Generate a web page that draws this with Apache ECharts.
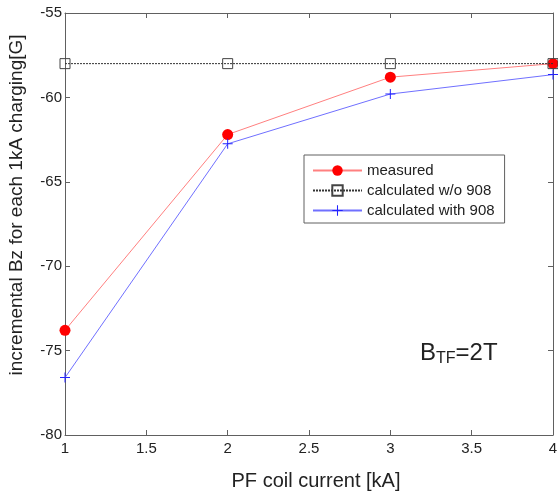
<!DOCTYPE html>
<html>
<head>
<meta charset="utf-8">
<script src="https://cdn.jsdelivr.net/npm/echarts@6/dist/echarts.min.js"></script>
<style>
html, body { margin: 0; padding: 0; background: #fff; }
#main { width: 558px; height: 494px; }
</style>
</head>
<body>
<div id="main"></div>
<script>
var current = [1, 2, 3, 4];
var measured = [-73.8, -62.2, -58.8, -58.0];
var calcWithout = [-58, -58, -58, -58];
var calcWith = [-76.6, -62.75, -59.8, -58.65];
var xTicks = [1, 1.5, 2, 2.5, 3, 3.5, 4];
var yTicks = [-80, -75, -70, -65, -60, -55];

function pairs(ys) {
    return current.map(function (x, i) { return [x, ys[i]]; });
}

var plus = 'path://M0,4.5L10,4.5L10,5.5L0,5.5Z M4.5,0L5.5,0L5.5,10L4.5,10Z';
var font = 'Liberation Sans, Arial, sans-serif';
var axisLine = { lineStyle: { color: '#606060', width: 1 } };

var dom = document.getElementById('main');
var myChart = echarts.init(dom);
var option = {
    backgroundColor: '#fff',
    animation: false,
    grid: { left: 65, right: 5, top: 13, bottom: 59, outerBoundsMode: 'none', containLabel: false },
    legend: {
        orient: 'vertical',
        left: 304,
        top: 155,
        padding: [8, 10, 5, 8],
        itemGap: 5,
        itemWidth: 49,
        itemHeight: 13,
        backgroundColor: '#fff',
        borderColor: '#606060',
        borderWidth: 1,
        textStyle: { fontFamily: font, fontSize: 15, color: '#222' },
        data: ['measured', 'calculated w/o 908', 'calculated with 908']
    },
    xAxis: [{
        type: 'value',
        min: 1, max: 4, interval: 0.5,
        name: 'PF coil current [kA]',
        nameLocation: 'middle',
        nameGap: 36,
        nameTextStyle: { fontFamily: font, fontSize: 20, color: '#222', padding: [0, 0, 0, 14] },
        axisLine: axisLine,
        axisTick: { inside: true, length: 5, lineStyle: { color: '#606060' } },
        axisLabel: { fontFamily: font, fontSize: 15, color: '#222', margin: 6,
            formatter: function (v) { return xTicks.indexOf(v) >= 0 ? String(v) : ''; } },
        splitLine: { show: false }
    }, {
        type: 'value', position: 'top',
        min: 1, max: 4, interval: 0.5,
        axisLine: axisLine,
        axisTick: { inside: true, length: 5, lineStyle: { color: '#606060' } },
        axisLabel: { show: false },
        splitLine: { show: false }
    }],
    yAxis: [{
        type: 'value',
        min: -80, max: -55, interval: 5,
        axisLine: axisLine,
        axisTick: { inside: true, length: 5, lineStyle: { color: '#606060' } },
        axisLabel: { fontFamily: font, fontSize: 15, color: '#222', margin: 3,
            formatter: function (v) { return yTicks.indexOf(v) >= 0 ? String(v) : ''; } },
        splitLine: { show: false }
    }, {
        type: 'value', position: 'right',
        min: -80, max: -55, interval: 5,
        axisLine: axisLine,
        axisTick: { inside: true, length: 5, lineStyle: { color: '#606060' } },
        axisLabel: { show: false },
        splitLine: { show: false }
    }],
    series: [{
        name: 'measured',
        type: 'line',
        data: pairs(measured),
        symbol: 'circle',
        symbolSize: 11,
        lineStyle: { color: '#ff8080', width: 1 },
        itemStyle: { color: '#ff0000' },
        z: 3
    }, {
        name: 'calculated w/o 908',
        type: 'line',
        data: pairs(calcWithout),
        symbol: 'rect',
        symbolSize: 10,
        lineStyle: { color: '#333', width: 1, type: [2, 1] },
        itemStyle: { color: 'rgba(255,255,255,0)', borderColor: '#444', borderWidth: 1 },
        z: 4
    }, {
        name: 'calculated with 908',
        type: 'line',
        data: pairs(calcWith),
        symbol: plus,
        symbolSize: 10,
        lineStyle: { color: '#7070ff', width: 1 },
        itemStyle: { color: '#2222ff' },
        z: 3
    }],
    graphic: [{
        type: 'text',
        x: 17,
        y: 205,
        rotation: Math.PI / 2,
        style: {
            text: 'incremental Bz for each 1kA charging[G]',
            fontFamily: font,
            fontSize: 19,
            fill: '#222',
            align: 'center',
            verticalAlign: 'middle'
        }
    }, {
        type: 'text',
        left: 420,
        top: 341,
        style: {
            text: 'B{s|TF}=2T',
            fontFamily: font,
            fontSize: 24,
            fill: '#222',
            rich: { s: { fontFamily: font, fontSize: 16, fill: '#222', verticalAlign: 'bottom', padding: [12, 0, 0, 0] } }
        }
    }]
};
if (option && typeof option === 'object') {
    myChart.setOption(option, true);
}
</script>
</body>
</html>
